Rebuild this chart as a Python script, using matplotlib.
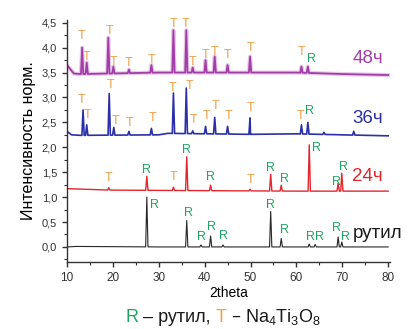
import numpy as np
import matplotlib
matplotlib.use("Agg")
import matplotlib.pyplot as plt
from matplotlib.ticker import MultipleLocator, FuncFormatter
from matplotlib.offsetbox import TextArea, HPacker, AnchoredOffsetbox

plt.rcParams['font.family'] = ['Liberation Sans', 'DejaVu Sans']
plt.rcParams['mathtext.default'] = 'regular'

# --- data (2theta, normalised intensity) ---
rutile_base_x = [10, 12, 30, 60, 80]
rutile_base_y = [0.0, 0.01, 0.0, 0.0, 0.0]
rutile_peaks = [27.4, 36.1, 39.2, 41.3, 44.0, 54.4, 56.7, 62.8, 64.1, 69.1, 69.9]
rutile_tops = [1.0, 0.53, 0.04, 0.22, 0.04, 0.71, 0.17, 0.06, 0.05, 0.2, 0.1]
rutile_marks = ['R'] * 11

h24_base_x = [10, 20, 40, 60, 80]
h24_base_y = [1.17, 1.14, 1.13, 1.12, 1.12]
h24_peaks = [19.1, 27.4, 33.2, 36.1, 41.3, 49.9, 54.4, 56.7, 62.8, 69.1, 69.9]
h24_tops = [1.19, 1.42, 1.2, 1.81, 1.24, 1.16, 1.46, 1.24, 2.05, 1.28, 1.48]
h24_marks = ['T', 'R', 'T', 'R', 'R', 'T', 'R', 'R', 'R', 'R', 'R']

h36_base_x = [10, 11, 13, 30, 32, 50, 60, 80]
h36_base_y = [2.32, 2.25, 2.24, 2.25, 2.28, 2.26, 2.27, 2.23]
h36_peaks = [13.5, 14.3, 19.2, 20.2, 23.5, 28.4, 33.2, 36.0, 37.4, 40.2, 42.2,
             45.0, 49.9, 61.1, 62.5, 66.0, 72.5]
h36_tops = [2.75, 2.45, 3.08, 2.4, 2.32, 2.38, 3.09, 3.19, 2.33, 2.42, 2.6,
            2.42, 2.59, 2.45, 2.5, 2.3, 2.32]
h36_marks = ['T'] * 14 + ['R', '', '']

h48_base_x = [10, 11.5, 13, 30, 60, 70, 80]
h48_base_y = [3.65, 3.48, 3.47, 3.5, 3.5, 3.47, 3.45]
h48_peaks = [13.3, 14.3, 19.0, 20.1, 23.5, 28.4, 33.2, 36.0, 37.4, 40.2, 42.2,
             45.0, 49.9, 61.1, 62.5]
h48_tops = [4.0, 3.7, 4.2, 3.62, 3.56, 3.65, 4.35, 4.35, 3.6, 3.75, 3.82,
            3.65, 3.82, 3.62, 3.62]
h48_marks = ['T'] * 14 + ['R']

yticks = [0.0, 0.5, 1.0, 1.5, 2.0, 2.5, 3.0, 3.5, 4.0, 4.5]

# --- layout of the peak letters (offsets from each peak top) ---
rutile_dx = [1.7, 0.3, 0.1, 0.2, 0.2, 0.0, 0.6, 0.2, 0.9, -0.3, 0.9]
rutile_dy = [-0.16, 0.15, 0.16, 0.19, 0.18, 0.13, 0.17, 0.14, 0.15, 0.18, 0.1]
h24_dx = [0.0, 0.0, 0.0, 0.0, 0.0, 0.0, 0.0, 0.8, 1.6, -0.3, 0.4]
h24_dy = [0.2, 0.12, 0.21, 0.14, 0.17, 0.19, 0.12, 0.13, -0.06, 0.03, 0.13]
h36_dx = [-0.3, 0.1, 0.2, 0.3, 0.2, 0.3, -0.1, 0.8, 0.1, 0.2, 0.2, 0.3, 0.1,
          -0.1, 0.4, 0, 0]
h36_dy = [0.2, 0.2, 0.17, 0.12, 0.17, 0.21, 0.1, 0.05, 0.22, 0.21, 0.22, 0.21,
          0.2, 0.18, 0.22, 0, 0]
h48_dx = [-0.2, 0.0, 0.2, 0.1, 0.0, 0.0, 0.1, -0.1, 0.0, 0.0, 0.0, 0.0, 0.0,
          0.0, 0.7]
h48_dy = [0.24, 0.12, 0.14, 0.1, 0.13, 0.1, 0.13, 0.13, 0.12, 0.11, 0.1, 0.21,
          0.18, 0.3, 0.16]

GREEN = '#1fa463'
ORANGE = '#f0a048'


def trace(base_x, base_y, peaks, tops, hw=0.25):
    # polyline: baseline points plus a narrow spike for every read peak
    xs = list(base_x)
    ys = list(base_y)
    for p, t in zip(peaks, tops):
        b = np.interp(p, base_x, base_y)
        xs += [p - hw, p, p + hw]
        ys += [b, t, b]
    order = np.argsort(xs, kind='stable')
    return np.array(xs)[order], np.array(ys)[order]


fig = plt.figure(figsize=(4.11, 3.29), dpi=100)
ax = fig.add_axes([0.163, 0.204, 0.787, 0.736])

series = [
    (rutile_base_x, rutile_base_y, rutile_peaks, rutile_tops, rutile_marks,
     rutile_dx, rutile_dy, '#262626', 0.8),
    (h24_base_x, h24_base_y, h24_peaks, h24_tops, h24_marks,
     h24_dx, h24_dy, '#e3262d', 1.0),
    (h36_base_x, h36_base_y, h36_peaks, h36_tops, h36_marks,
     h36_dx, h36_dy, '#2b2fa8', 1.2),
    (h48_base_x, h48_base_y, h48_peaks, h48_tops, h48_marks,
     h48_dx, h48_dy, '#a33da8', 1.3),
]

for bx, by, pk, tp, mk, dx, dy, col, lw in series:
    x, y = trace(bx, by, pk, tp)
    if col == '#a33da8':
        ax.plot(x, y, color='#c98acd', lw=3.0, alpha=0.45)
    ax.plot(x, y, color=col, lw=lw)
    for p, t, m, ddx, ddy in zip(pk, tp, mk, dx, dy):
        if not m:
            continue
        ax.text(p + ddx, t + ddy, m, color=GREEN if m == 'R' else ORANGE,
                fontsize=9, ha='center', va='center')

ax.text(72.2, 3.78, '48ч', color='#a33da8', fontsize=13.5, va='center', ha='left')
ax.text(72.2, 2.57, '36ч', color='#2b2fa8', fontsize=13.5, va='center', ha='left')
ax.text(72.2, 1.41, '24ч', color='#e3262d', fontsize=13.5, va='center', ha='left')
ax.text(72.3, 0.27, 'рутил', color='#1a1a1a', fontsize=13.5, va='center', ha='left',
        clip_on=False)

ax.set_xlim(10, 80.5)
ax.set_ylim(-0.3, 4.56)
ax.set_yticks(yticks)
ax.yaxis.set_major_formatter(FuncFormatter(lambda v, pos: f'{v:.1f}'.replace('.', ',')))
ax.xaxis.set_major_locator(MultipleLocator(10))
ax.xaxis.set_minor_locator(MultipleLocator(5))
ax.yaxis.set_minor_locator(MultipleLocator(0.25))
for s in ['top', 'right']:
    ax.spines[s].set_visible(False)
for s in ['left', 'bottom']:
    ax.spines[s].set_color('#333333')
    ax.spines[s].set_linewidth(1.0)
ax.tick_params(which='major', length=3.5, width=1, colors='#333333', labelsize=8)
ax.tick_params(which='minor', length=2, width=0.8, colors='#333333')
ax.tick_params(axis='x', labelsize=8.5)

ax.set_xlabel('2theta', fontsize=10, labelpad=2)
ax.set_ylabel('Интенсивность норм.', fontsize=11.5, labelpad=4)

parts = [TextArea('R', textprops=dict(color=GREEN, fontsize=13)),
         TextArea(' – рутил, ', textprops=dict(color='#1a1a1a', fontsize=13)),
         TextArea('T', textprops=dict(color=ORANGE, fontsize=13)),
         TextArea(' – Na$_4$Ti$_3$O$_8$', textprops=dict(color='#1a1a1a', fontsize=13))]
box = HPacker(children=parts, align='baseline', pad=0, sep=0)
anch = AnchoredOffsetbox(loc='center', child=box, frameon=False,
                         bbox_to_anchor=(0.543, 0.035), bbox_transform=fig.transFigure,
                         borderpad=0, pad=0)
fig.add_artist(anch)

fig.savefig('out.png', dpi=100)
